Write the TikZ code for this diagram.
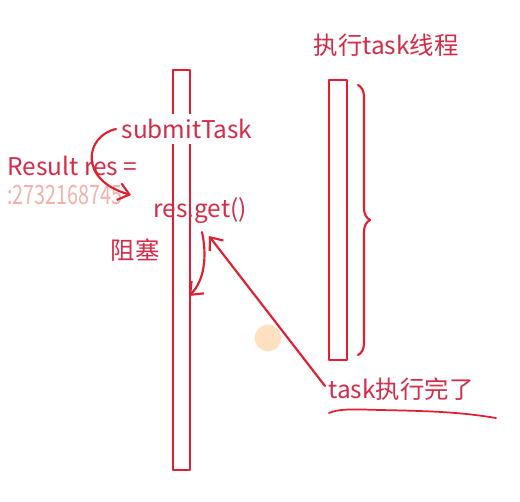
\documentclass[tikz,border=0pt]{standalone}
\usepackage{fontspec}
\setmainfont{Noto Sans CJK SC}
\usetikzlibrary{arrows.meta,decorations.pathreplacing}
\definecolor{penred}{RGB}{226,30,48}
\definecolor{txtred}{RGB}{212,44,72}
\definecolor{fade}{RGB}{240,178,170}
\tikzset{
  lbl/.style={text=txtred, font=\fontsize{18.3pt}{20pt}\selectfont, inner sep=1pt},
  pen/.style={draw=penred, line width=1.6pt, line cap=round, line join=round},
  barb/.style={-{Straight Barb[length=8pt,width=13pt,line width=1.6pt]}}
}
\begin{document}
\begin{tikzpicture}[x=0.75pt,y=-0.75pt]
\useasboundingbox[fill=white] (0,0) rectangle (520,502);
% left thread bar
\draw[pen] (173,70) rectangle (190,470);
% right thread bar
\draw[pen] (329,80) rectangle (347,360);
\node[lbl, fill=white, inner sep=4pt, anchor=west] (submit) at (116,129) {submitTask};
\node[lbl, anchor=west] (result) at (6,166) {Result res =};
\node[text=fade, font=\fontsize{20pt}{22pt}\selectfont, anchor=west, inner sep=0pt, xscale=0.74] (addr) at (7,195) {:2732168745};
\node[lbl, anchor=west] (get) at (152,211) {res.get()};
\node[lbl, anchor=west] (block) at (109,250) {阻塞};
\node[lbl, anchor=west] (thread) at (312,45) {执行task线程};
\node[lbl, anchor=west] (done) at (327,389) {task执行完了};
% brace for right thread
\coordinate (bt) at (358,85);
\coordinate (bb) at (358,355);
\draw[pen, decorate, decoration={brace, amplitude=9pt}] (bt) -- (bb);
% submit arrow curve
\coordinate (subEnd) at (131,195);
\draw[pen, barb] (submit.west) .. controls (85,136) and (78,180) .. (subEnd);
% get blocking arrow
\coordinate (gs) at (202,232);
\coordinate (ge) at (189,296);
\draw[pen, barb] (gs) .. controls (207,255) and (205,280) .. (ge);
% task done arrow
\coordinate (dh) at (209,236);
\coordinate (ds) at (325,386);
\draw[pen, barb] (ds) -- (dh);
% underline
\coordinate (u1) at (329,413);
\coordinate (u2) at (496,418);
\draw[penred, line width=1.3pt, line cap=round] (u1) .. controls (338,409) and (350,409) .. (380,410) .. controls (430,411) and (460,412) .. (u2);
% cursor mark
\node[circle, fill=orange!40, opacity=0.6, minimum size=20pt, inner sep=0pt] (cursor) at (268,338) {};
\end{tikzpicture}
\end{document}
